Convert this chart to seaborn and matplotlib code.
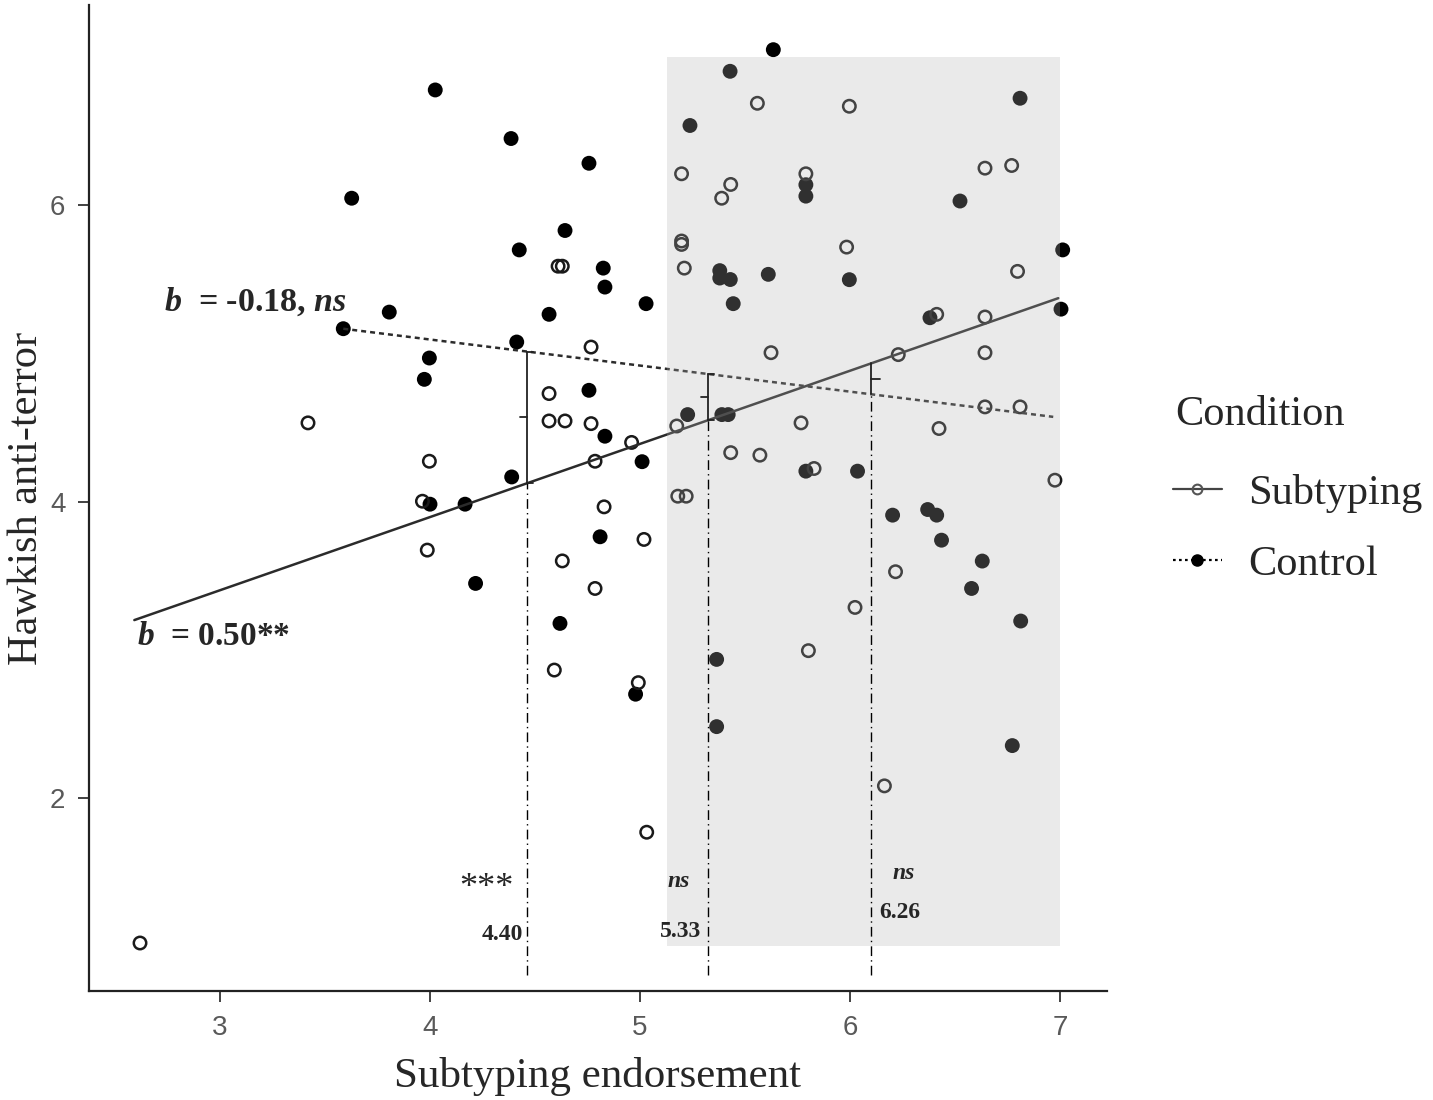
import matplotlib
matplotlib.use("Agg")
import matplotlib.pyplot as plt
import seaborn as sns
from matplotlib.lines import Line2D
from matplotlib.patches import Rectangle

# points
control_x = [4.025, 4.386, 4.757, 3.627, 4.643, 4.425, 4.825, 4.833, 4.567, 3.806,
             3.587, 4.413, 3.997, 3.973, 4.757, 4.833, 4.389, 5.635, 5.429, 5.238,
             6.81, 5.79, 5.79, 6.524, 7.013, 5.38, 5.38, 5.43, 5.611, 5.997,
             5.444, 7.005, 6.381, 5.227, 5.39, 5.42, 5.79, 6.036, 5.029, 5.01,
             4.0, 4.167, 4.217, 4.81, 4.619, 4.979, 5.365, 5.365, 6.203, 6.37,
             6.413, 6.436, 6.63, 6.579, 6.813, 6.773]
control_y = [6.78, 6.452, 6.285, 6.049, 5.831, 5.70, 5.577, 5.449, 5.265, 5.28,
             5.168, 5.078, 4.97, 4.826, 4.752, 4.442, 4.167, 7.052, 6.906, 6.54,
             6.724, 6.14, 6.063, 6.03, 5.70, 5.56, 5.51, 5.50, 5.535, 5.499,
             5.337, 5.30, 5.242, 4.588, 4.588, 4.588, 4.206, 4.206, 5.337, 4.27,
             3.983, 3.983, 3.448, 3.763, 3.178, 2.70, 2.935, 2.481, 3.909, 3.947,
             3.909, 3.74, 3.599, 3.414, 3.194, 2.353]

subtyping_x = [4.61, 4.63, 4.767, 4.567, 4.567, 4.643, 4.767, 3.419, 3.997, 4.786,
               5.559, 5.997, 5.198, 5.432, 5.389, 5.79, 6.643, 6.77, 5.198, 5.198,
               5.211, 5.984, 6.798, 6.413, 6.643, 5.624, 6.643, 6.23, 6.643, 6.81,
               5.175, 5.767, 6.424, 5.432, 5.571, 5.829, 6.976, 5.18, 5.22,
               3.964, 3.987, 4.829, 4.63, 4.786, 4.592, 2.619, 5.019, 4.992, 5.032,
               5.802, 6.024, 6.217, 6.164, 4.96]
subtyping_y = [5.59, 5.59, 5.044, 4.73, 4.545, 4.545, 4.527, 4.532, 4.273, 4.273,
               6.69, 6.67, 6.214, 6.142, 6.049, 6.214, 6.252, 6.27, 5.76, 5.737,
               5.577, 5.719, 5.555, 5.265, 5.247, 5.006, 5.006, 4.993, 4.64, 4.64,
               4.511, 4.532, 4.494, 4.331, 4.314, 4.224, 4.145, 4.037, 4.037,
               4.003, 3.673, 3.965, 3.60, 3.414, 2.863, 1.02, 3.745, 2.778, 1.768,
               2.994, 3.286, 3.527, 2.081, 4.40]

# fitted simple regression lines
sub_fit = {"intercept": 1.920, "slope": 0.494, "xmin": 2.592, "xmax": 6.992}
ctrl_fit = {"intercept": 5.799, "slope": -0.176, "xmin": 3.587, "xmax": 6.968}

# Johnson-Neyman style probes
probe_x = [4.462, 5.324, 6.10]
probe_labels = ["4.40", "5.33", "6.26"]
probe_sig = ["***", "ns", "ns"]

# region of significance shading
shade_x = [5.13, 7.0]
shade_y = [1.0, 7.0]


def fit_y(fit, x):
    return fit["intercept"] + fit["slope"] * x


sns.set_theme(style="ticks")
plt.rcParams['font.family'] = ['Liberation Serif', 'DejaVu Serif']
plt.rcParams['mathtext.fontset'] = 'custom'
plt.rcParams['mathtext.it'] = 'Liberation Serif:italic:bold'
plt.rcParams['mathtext.rm'] = 'Liberation Serif:bold'
plt.rcParams['mathtext.bf'] = 'Liberation Serif:bold'

fig = plt.figure(figsize=(14.33, 11), dpi=100)
ax = fig.add_axes([0.0621, 0.0991, 0.7104, 0.8964])

sns.scatterplot(x=control_x, y=control_y, color="black", s=115, edgecolor="none",
                ax=ax, zorder=2, legend=False)
sns.scatterplot(x=subtyping_x, y=subtyping_y, color="none", edgecolor="#1a1a1a",
                s=80, linewidth=1.8, ax=ax, zorder=2, legend=False)

# regression lines
for fit, ls in [(sub_fit, "-"), (ctrl_fit, (0, (2, 1.6)))]:
    xs = [fit["xmin"], fit["xmax"]]
    ys = [fit_y(fit, v) for v in xs]
    sns.lineplot(x=xs, y=ys, color="#2b2b2b", lw=1.8, linestyle=ls, ax=ax,
                 zorder=3, estimator=None)

ax.add_patch(Rectangle((shade_x[0], shade_y[0]), shade_x[1] - shade_x[0],
                       shade_y[1] - shade_y[0], facecolor="#b3b3b3", alpha=0.27,
                       edgecolor="none", zorder=4))

# probes: dash-dot drop lines and brackets
for i, xv in enumerate(probe_x):
    a, b = fit_y(sub_fit, xv), fit_y(ctrl_fit, xv)
    lo, hi = min(a, b), max(a, b)
    ax.plot([xv, xv], [0.806, lo], color="black", lw=1.0,
            ls=(0, (7, 3, 1, 3)), zorder=5)
    ax.plot([xv, xv], [lo, hi], color="#222222", lw=1.3, zorder=5)
    mid = (lo + hi) / 2
    if i < 2:
        ax.plot([xv - 0.035, xv], [mid, mid], color="#222222", lw=1.3, zorder=5)
        ax.plot([xv, xv + 0.03], [hi, hi], color="#222222", lw=1.3, zorder=5)
        ax.plot([xv, xv + 0.03], [lo, lo], color="#222222", lw=1.3, zorder=5)
    else:
        ax.plot([xv, xv + 0.045], [mid, mid], color="#222222", lw=1.3, zorder=5)

ax.text(2.733, 5.287, r"$b$  = -0.18, $ns$", fontsize=24.5, fontweight="bold",
        ha="left", va="baseline", zorder=6)
ax.text(2.603, 3.032, r"$b$  = 0.50**", fontsize=24, fontweight="bold",
        ha="left", va="baseline", zorder=6)

ax.text(4.27, 1.39, probe_sig[0], fontsize=26, ha="center", va="center", zorder=6)
ax.text(4.444, 1.042, probe_labels[0], fontsize=17, fontweight="bold",
        ha="right", va="baseline", zorder=6)
ax.text(5.133, 1.40, probe_sig[1], fontsize=17, fontweight="bold", style="italic",
        ha="left", va="baseline", zorder=6)
ax.text(5.095, 1.062, probe_labels[1], fontsize=17, fontweight="bold",
        ha="left", va="baseline", zorder=6)
ax.text(6.203, 1.452, probe_sig[2], fontsize=17, fontweight="bold", style="italic",
        ha="left", va="baseline", zorder=6)
ax.text(6.138, 1.188, probe_labels[2], fontsize=17, fontweight="bold",
        ha="left", va="baseline", zorder=6)

ax.set_xlim(2.376, 7.224)
ax.set_ylim(0.696, 7.354)
ax.set_xticks([3, 4, 5, 6, 7])
ax.set_yticks([2, 4, 6])
ax.tick_params(direction="out", length=8, width=1.3, color="#333333",
               labelsize=20, labelcolor="#595959")
ax.tick_params(axis="x", pad=9)
ax.tick_params(axis="y", pad=9)
for lab in ax.get_xticklabels() + ax.get_yticklabels():
    lab.set_fontfamily(["Liberation Sans", "DejaVu Sans"])

sns.despine(ax=ax)
for side in ["left", "bottom"]:
    ax.spines[side].set_linewidth(1.6)
    ax.spines[side].set_color("#222222")

ax.set_xlabel("Subtyping endorsement", fontsize=31, labelpad=12)
ax.set_ylabel("Hawkish anti-terror", fontsize=30.5, labelpad=3)

handles = [
    Line2D([], [], color="#444444", lw=1.6, marker="o", mfc="none", mec="#555555",
           ms=7, mew=1.5),
    Line2D([], [], color="black", lw=1.6, ls=(0, (1.2, 1.5)), marker="o",
           mfc="black", mec="black", ms=8),
]
fig.text(1175 / 1433, 1 - 415 / 1100, "Condition", fontsize=30.5,
         ha="left", va="center")
fig.legend(handles, ["Subtyping", "Control"], loc="center left",
           bbox_to_anchor=(1173 / 1433, 1 - 529 / 1100), frameon=False,
           fontsize=30.5, handlelength=1.15, handletextpad=0.62,
           labelspacing=0.75, borderpad=0, borderaxespad=0)

fig.savefig("out.png", dpi=100)
